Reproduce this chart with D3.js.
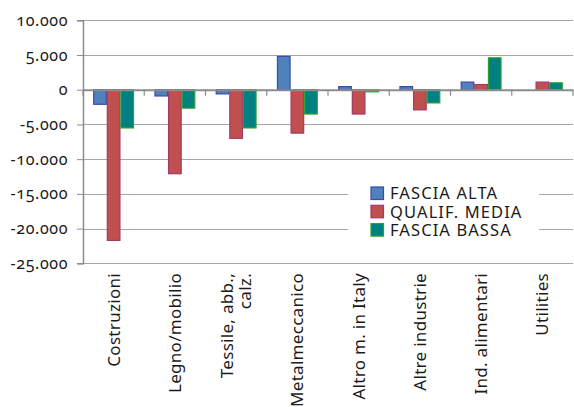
<!DOCTYPE html>
<html>
<head>
<meta charset="utf-8">
<script src="https://cdn.jsdelivr.net/npm/d3@7"></script>
<style>
  body { margin: 0; background: #fff; }
  text { font-family: "Noto Sans", sans-serif; fill: #1a1a1a; }
  .num { font-variant-numeric: oldstyle-nums; }
</style>
</head>
<body>
<div id="chart"></div>
<script>
// categories and series
var categories = ["Costruzioni", "Legno/mobilio", "Tessile, abb., calz.", "Metalmeccanico",
                  "Altro m. in Italy", "Altre industrie", "Ind. alimentari", "Utilities"];
var categoryLines = [["Costruzioni"], ["Legno/mobilio"], ["Tessile, abb.,", "calz."], ["Metalmeccanico"],
                     ["Altro m. in Italy"], ["Altre industrie"], ["Ind. alimentari"], ["Utilities"]];
var seriesNames = ["FASCIA ALTA", "QUALIF. MEDIA", "FASCIA BASSA"];
var fasciaAlta  = [-2100,   -900,  -600,  4800,   450,   450, 1100,    0];
var qualifMedia = [-21700, -12100, -7000, -6250, -3500, -2900,  750, 1100];
var fasciaBassa = [-5500,  -2650, -5500, -3500,  -300, -1900, 4600, 1000];
var yTicks = [10000, 5000, 0, -5000, -10000, -15000, -20000, -25000];

var fills = ["#4F81BD", "#C0504D", "#008080"];
var strokes = ["#3B4BA6", "#A3386E", "#2EA02E"];

var W = 574, H = 407;
var plotLeft = 83, plotRight = 573, plotTop = 20.3, plotBottom = 263.3;

var svg = d3.select("#chart").append("svg")
    .attr("width", W)
    .attr("height", H);

var y = d3.scaleLinear().domain([-25000, 10000]).range([plotBottom, plotTop]);

var x0 = d3.scaleBand()
    .domain(categories)
    .range([plotLeft, plotRight]);

// gap width 150% -> bars take 3/4.5 of the band
var inner = x0.bandwidth() * 3 / 4.5;
var x1 = d3.scaleBand()
    .domain(seriesNames)
    .range([0, inner]);

var loc = d3.formatLocale({decimal: ",", thousands: ".", grouping: [3], currency: ["", ""], minus: "-"});
var fmt = loc.format(",d");

// gridlines
svg.append("g")
  .selectAll("line")
  .data(yTicks)
  .enter().append("line")
  .attr("x1", plotLeft)
  .attr("x2", plotRight)
  .attr("y1", function(d) { return Math.round(y(d)) + 0.5; })
  .attr("y2", function(d) { return Math.round(y(d)) + 0.5; })
  .attr("stroke", "#a6a6a6")
  .attr("stroke-width", 1.2);

// y axis
var yAxis = svg.append("g")
    .attr("transform", "translate(" + plotLeft + ",0)")
    .call(d3.axisLeft(y).tickValues(yTicks).tickFormat(fmt).tickSize(6).tickPadding(9));
yAxis.select(".domain").attr("stroke", "#8c8c8c").attr("stroke-width", 1.5);
yAxis.selectAll(".tick line").attr("stroke", "#8c8c8c");
yAxis.selectAll("text")
    .attr("class", "num")
    .style("font-size", "16px")
    .style("letter-spacing", "0.6px")
    .attr("fill", "#1a1a1a");

// bars
var data = categories.map(function(c, i) {
    return {cat: c, vals: [fasciaAlta[i], qualifMedia[i], fasciaBassa[i]]};
});

svg.append("g")
  .selectAll("g")
  .data(data)
  .enter().append("g")
  .attr("transform", function(d) { return "translate(" + (x0(d.cat) + (x0.bandwidth() - inner) / 2) + ",0)"; })
  .selectAll("rect")
  .data(function(d) { return d.vals.map(function(v, k) { return {key: seriesNames[k], value: v, k: k}; }); })
  .enter().append("rect")
  .attr("x", function(d) { return x1(d.key) + 0.5; })
  .attr("width", x1.bandwidth() - 1)
  .attr("y", function(d) { return y(Math.max(0, d.value)); })
  .attr("height", function(d) { return Math.abs(y(d.value) - y(0)); })
  .attr("fill", function(d) { return fills[d.k]; })
  .attr("stroke", function(d) { return strokes[d.k]; })
  .attr("stroke-width", function(d) { return d.value == 0 ? 0 : 1.2; });

// zero axis with category ticks
var xAxis = svg.append("g")
    .attr("transform", "translate(0," + y(0) + ")")
    .call(d3.axisBottom(x0).tickValues([]).tickSizeOuter(0));
xAxis.select(".domain").attr("stroke", "#8c8c8c").attr("stroke-width", 2.2);
xAxis.selectAll(".sep")
  .data(categories.concat(["end"]))
  .enter().append("line")
  .attr("class", "sep")
  .attr("x1", function(d, i) { return plotLeft + i * x0.step(); })
  .attr("x2", function(d, i) { return plotLeft + i * x0.step(); })
  .attr("y1", 0)
  .attr("y2", 6)
  .attr("stroke", "#8c8c8c")
  .attr("stroke-width", 1.2);

// category labels, rotated
var labels = svg.append("g")
  .selectAll("text")
  .data(categories)
  .enter().append("text")
  .attr("transform", function(d) { return "translate(" + (x0(d) + x0.bandwidth() / 2) + ",273) rotate(-90)"; })
  .attr("text-anchor", "end")
  .style("font-size", "17px")
  .style("letter-spacing", "0.3px");

labels.each(function(d, i) {
    var lines = categoryLines[i];
    var t = d3.select(this);
    lines.forEach(function(l, j) {
        t.append("tspan")
         .attr("x", 0)
         .attr("dy", j == 0 ? (lines.length == 1 ? "0.35em" : "-0.2em") : "1.1em")
         .text(l);
    });
});

// legend
var legend = svg.append("g").attr("transform", "translate(348,181)");
legend.append("rect")
  .attr("width", 191)
  .attr("height", 58)
  .attr("fill", "#fff");

var items = legend.selectAll("g")
  .data(seriesNames)
  .enter().append("g")
  .attr("transform", function(d, i) { return "translate(23," + (6 + i * 18.3) + ")"; });

items.append("rect")
  .attr("width", 12.5)
  .attr("height", 12.5)
  .attr("fill", function(d, i) { return fills[i]; })
  .attr("stroke", function(d, i) { return strokes[i]; })
  .attr("stroke-width", 1.2);

items.append("text")
  .attr("x", 19)
  .attr("y", 6.5)
  .attr("dy", "0.36em")
  .style("font-size", "16.5px")
  .style("letter-spacing", "1.1px")
  .text(function(d) { return d; });
</script>
</body>
</html>
